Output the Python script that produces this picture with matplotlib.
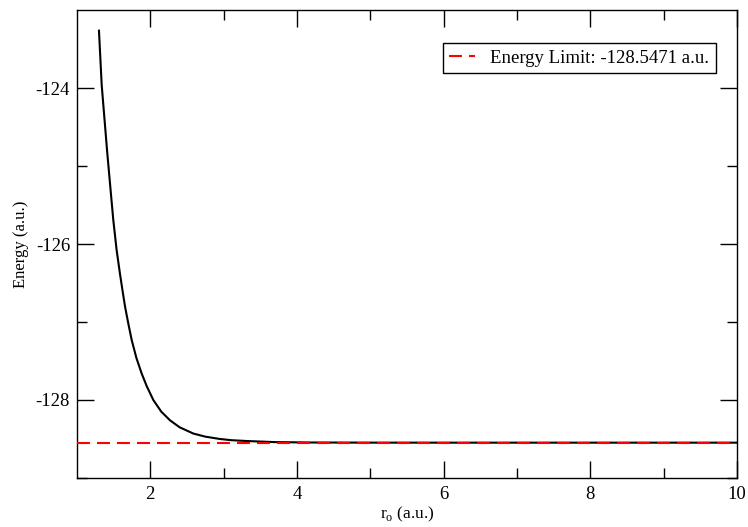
from matplotlib import pyplot as plt
import numpy as np

plt.rcParams['font.family'] = ['Liberation Serif', 'DejaVu Serif']
plt.rcParams['axes.unicode_minus'] = False

# Energy curve
r_o = [1.300, 1.337, 1.413, 1.45, 1.495, 1.541, 1.586, 1.62, 1.655, 1.70,
       1.746, 1.81, 1.882, 1.95, 2.041, 2.15, 2.268, 2.4, 2.586, 2.75,
       2.95, 3.1, 3.314, 3.7, 4.2, 5.0, 6.0, 7.0, 8.0, 9.0, 10.0]
energy = [-123.265, -123.96, -124.83, -125.22, -125.69, -126.08, -126.38,
          -126.59, -126.80, -127.02, -127.23, -127.46, -127.66, -127.82,
          -128.00, -128.15, -128.26, -128.35, -128.43, -128.47, -128.50,
          -128.515, -128.526, -128.540, -128.545, -128.5468, -128.5471,
          -128.5471, -128.5471, -128.5471, -128.5471]

e_limit = -128.5471
limit_label = 'Energy Limit: -128.5471 a.u.'

fig = plt.figure(figsize=(7.48, 5.27), dpi=100)
ax = fig.add_axes([0.1029, 0.093, 0.8824, 0.888])

ax.plot(r_o, energy, color='k', lw=1.5, zorder=2)
ax.plot([1, 10], [e_limit, e_limit], color='red', lw=1.5, dashes=(6.2, 3.4),
        label=limit_label, zorder=3)

ax.set_xlim(1, 10)
ax.set_ylim(-129, -123)
ax.set_xticks([2, 4, 6, 8, 10])
ax.set_xticks([3, 5, 7, 9], minor=True)
ax.set_yticks([-128, -126, -124])
ax.set_yticks([-129, -127, -125], minor=True)

ax.tick_params(which='both', direction='in', top=True, right=True, width=1,
               labelsize=13.5)
ax.tick_params(which='major', length=12.5)
ax.tick_params(which='minor', length=7)
ax.tick_params(axis='x', pad=6)
ax.tick_params(axis='y', pad=5)
for s in ax.spines.values():
    s.set_linewidth(1.0)

ax.set_xlabel(r'r$_{\mathregular{o}}$ (a.u.)', fontsize=12.5, labelpad=1)
ax.set_ylabel('Energy (a.u.)', fontsize=12, labelpad=5)

leg = ax.legend(loc='upper right', bbox_to_anchor=(0.968, 0.929),
                borderaxespad=0, fontsize=13.5, fancybox=False,
                edgecolor='k', framealpha=1, handlelength=1.4,
                handletextpad=0.8, borderpad=0.35)
leg.get_frame().set_linewidth(1.0)

plt.savefig('out.png', dpi=100)
